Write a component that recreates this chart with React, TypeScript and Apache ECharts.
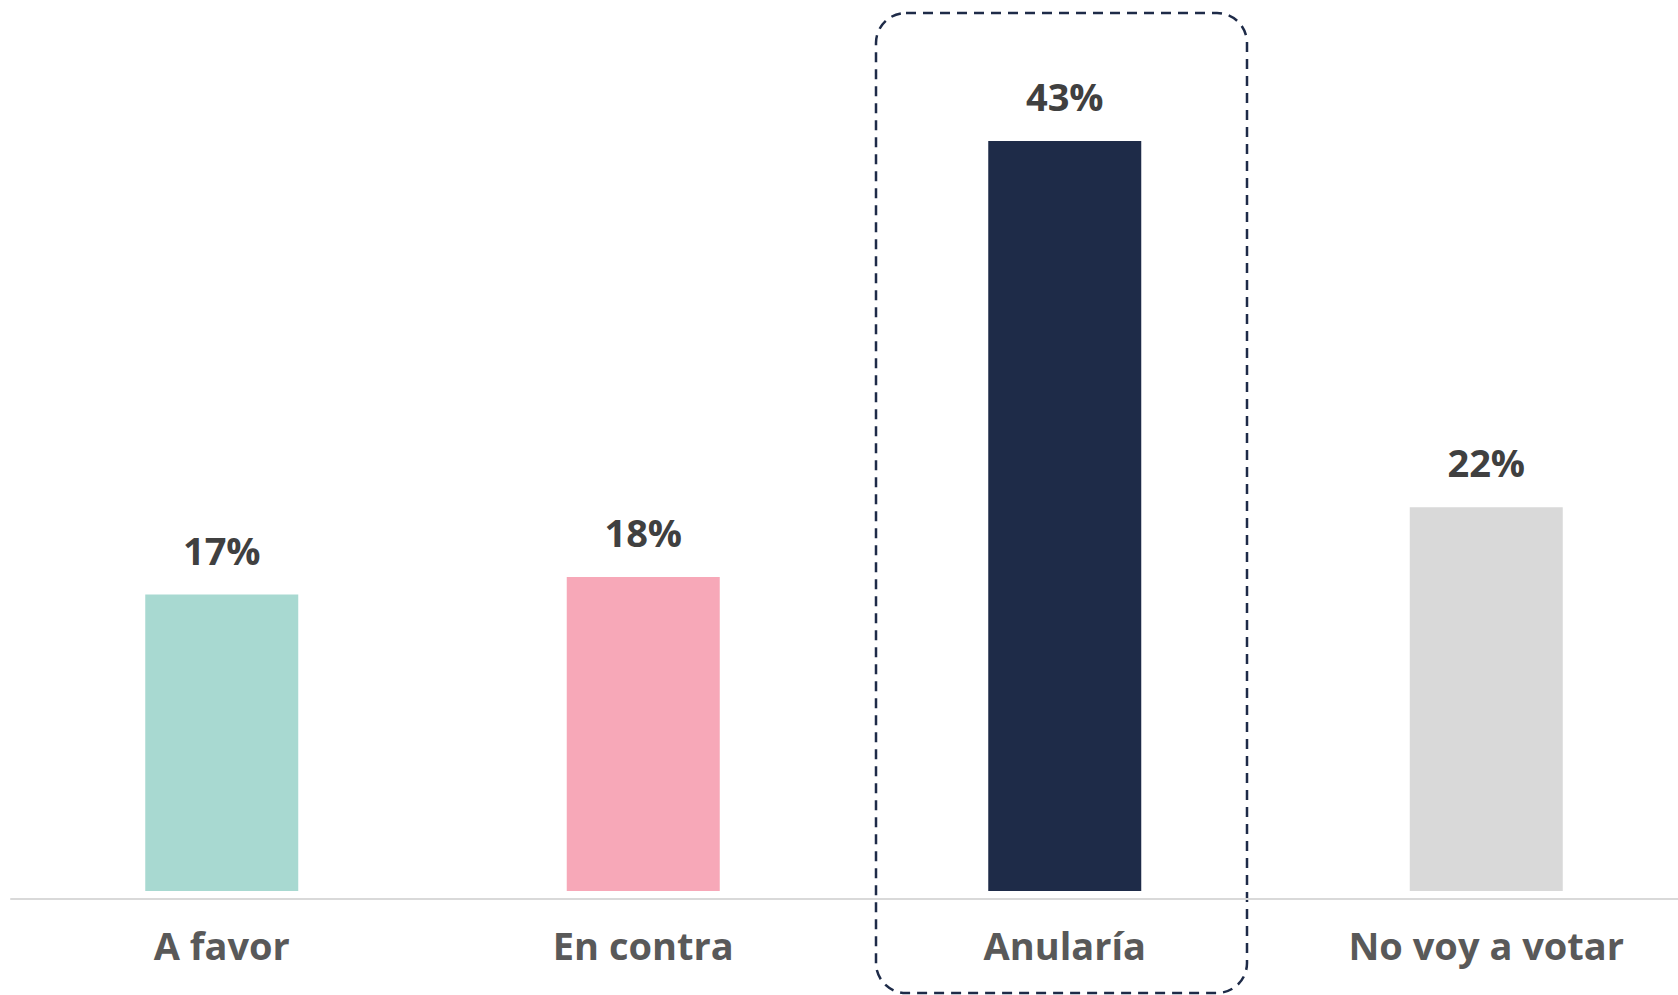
import React, { useEffect, useRef } from "react";
import * as echarts from "echarts";

const categories = ["A favor", "En contra", "Anularía", "No voy a votar"];
const values = [17, 18, 43, 22];
const barColors = ["#a8d9d1", "#f7a8b8", "#1e2b48", "#d9d9d9"];

export default function App() {
  const ref = useRef<HTMLDivElement>(null);
  useEffect(() => {
    if (!ref.current) return;
    const chart = echarts.init(ref.current, null, { renderer: "svg" });
    chart.setOption({
      animation: false,
      backgroundColor: "#ffffff",
      grid: { left: 11, top: 19, bottom: 104, right: 0, containLabel: false },
      xAxis: {
        type: "category",
        data: categories,
        offset: 8,
        axisLine: { show: true, onZero: false, lineStyle: { color: "#d9d9d9", width: 2 } },
        axisTick: { show: false },
        axisLabel: {
          margin: 27,
          color: "#595959",
          fontFamily: "'Open Sans', sans-serif",
          fontWeight: 700,
          fontSize: 38,
          interval: 0,
        },
      },
      yAxis: {
        type: "value",
        min: 0,
        max: 50,
        show: false,
        splitLine: { show: false },
      },
      series: [
        {
          type: "bar",
          barWidth: 153,
          data: values.map((v, i) => ({ value: v, itemStyle: { color: barColors[i] } })),
          label: {
            show: true,
            position: "top",
            distance: 26,
            formatter: (p: any) => `${p.value}%`,
            color: "#404040",
            fontFamily: "'Open Sans', sans-serif",
            fontWeight: 700,
            fontSize: 38,
          },
        },
      ],
      graphic: [
        {
          type: "rect",
          shape: { x: 876, y: 13, width: 371, height: 980, r: 30 },
          style: { fill: "none", stroke: "#1e2b48", lineWidth: 2.5, lineDash: [10, 7] },
          silent: true,
        },
      ],
    });
    return () => chart.dispose();
  }, []);
  return (
    <div
      style={{
        position: "absolute",
        left: 0,
        top: 0,
        width: 1678,
        height: 995,
        overflow: "hidden",
        background: "#ffffff",
      }}
    >
      <div ref={ref} style={{ width: 1697, height: 995 }} />
    </div>
  );
}
